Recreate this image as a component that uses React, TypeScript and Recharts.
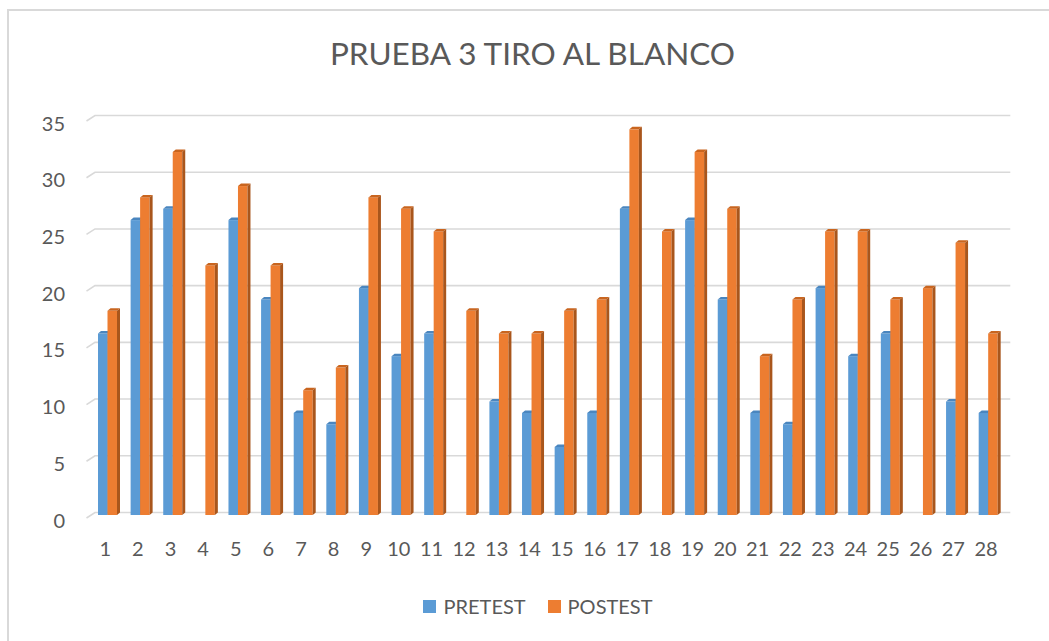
import { Bar, BarChart, CartesianGrid, Legend, XAxis, YAxis } from "recharts"

const categories = [
  "1", "2", "3", "4", "5", "6", "7", "8", "9", "10", "11", "12", "13", "14",
  "15", "16", "17", "18", "19", "20", "21", "22", "23", "24", "25", "26", "27", "28",
]
const pretest = [16, 26, 27, 0, 26, 19, 9, 8, 20, 14, 16, 0, 10, 9, 6, 9, 27, 0, 26, 19, 9, 8, 20, 14, 16, 0, 10, 9]
const postest = [18, 28, 32, 22, 29, 22, 11, 13, 28, 27, 25, 18, 16, 16, 18, 19, 34, 25, 32, 27, 14, 19, 25, 25, 19, 20, 24, 16]
const seriesNames = ["PRETEST", "POSTEST"]
const yTicks = [0, 5, 10, 15, 20, 25, 30, 35]

const data = categories.map((c, i) => ({ name: c, PRETEST: pretest[i], POSTEST: postest[i] }))

const FONT = "Lato, 'Open Sans', sans-serif"
const TEXT = "#595959"

// depth of the fake 3d effect
const DX = 3
const DY = 2.5

function makeBox(front: string, top: string, side: string) {
  return (props: any) => {
    const { x, y, width, height } = props
    if (!height || height <= 0) return <g />
    return (
      <g>
        <rect x={x} y={y} width={width} height={height} fill={front} />
        <path
          d={`M${x},${y} L${x + DX},${y - DY} L${x + width + DX},${y - DY} L${x + width},${y} Z`}
          fill={top}
        />
        <path
          d={`M${x + width},${y} L${x + width + DX},${y - DY} L${x + width + DX},${y + height - DY} L${x + width},${y + height} Z`}
          fill={side}
        />
      </g>
    )
  }
}

const blueBox = makeBox("#5B9BD5", "#4A86BF", "#3E72A3")
const orangeBox = makeBox("#ED7D31", "#C9651F", "#A9561C")

function GridLine(props: any) {
  const { x1, x2, y1 } = props
  return (
    <path
      d={`M${x1 - 4.5},${y1 + 3} L${x1 + 4},${y1 - 2.5} L${x2 + 6},${y1 - 2.5}`}
      stroke="#d9d9d9"
      strokeWidth={1.6}
      fill="none"
    />
  )
}

function YTick(props: any) {
  const { y, payload } = props
  return (
    <text x={65} y={y + 4.5} textAnchor="end" dominantBaseline="central" fill={TEXT} fontSize={20} fontFamily={FONT}>
      {payload.value}
    </text>
  )
}

function XTick(props: any) {
  const { x, payload } = props
  return (
    <text x={x - 2} y={548} textAnchor="middle" dominantBaseline="central" fill={TEXT} fontSize={20} fontFamily={FONT}>
      {payload.value}
    </text>
  )
}

function LegendContent(props: any) {
  const items = [...(props.payload || [])].sort(
    (a: any, b: any) => seriesNames.indexOf(a.value) - seriesNames.indexOf(b.value)
  )
  return (
    <div style={{ display: "flex", justifyContent: "center", alignItems: "center", marginLeft: 27 }}>
      {items.map((p: any, i: number) => (
        <div key={p.value} style={{ display: "flex", alignItems: "center", marginLeft: i > 0 ? 22 : 0 }}>
          <span style={{ width: 13, height: 13, background: p.color, display: "inline-block", marginRight: 7 }} />
          <span style={{ fontFamily: FONT, fontSize: 20, color: TEXT, lineHeight: "20px" }}>{p.value}</span>
        </div>
      ))}
    </div>
  )
}

export default function App() {
  return (
    <div style={{ position: "fixed", left: 0, top: 0, width: 1049, height: 641, overflow: "hidden", background: "#fff" }}>
      <div
        style={{
          position: "absolute",
          left: 7,
          top: 9,
          width: 1100,
          height: 700,
          border: "2px solid #d9d9d9",
          boxSizing: "border-box",
        }}
      />
      <div
        style={{
          position: "absolute",
          left: 0,
          width: 1065,
          top: 33,
          textAlign: "center",
          fontFamily: FONT,
          fontSize: 31.5,
          color: TEXT,
          lineHeight: "40px",
        }}
      >
        PRUEBA 3 TIRO AL BLANCO
      </div>
      <div style={{ position: "absolute", left: 0, top: 0 }}>
        <BarChart
          width={1049}
          height={641}
          data={data}
          margin={{ top: 118, right: 44.7, left: 0, bottom: 96 }}
          barGap={0}
          barSize={9.5}
        >
          <CartesianGrid horizontal={(p: any) => <GridLine key={p.key} {...p} />} vertical={false} />
          <XAxis
            dataKey="name"
            height={30}
            axisLine={false}
            tickLine={false}
            tickSize={0}
            tickMargin={0}
            interval={0}
            tick={<XTick />}
          />
          <YAxis
            width={91}
            domain={[0, 35]}
            ticks={yTicks}
            interval={0}
            axisLine={false}
            tickLine={false}
            tick={<YTick />}
          />
          <Legend
            verticalAlign="middle"
            align="center"
            wrapperStyle={{ top: 596, left: 0, width: 1049 }}
            content={<LegendContent />}
          />
          <Bar dataKey="PRETEST" fill="#5B9BD5" shape={blueBox} isAnimationActive={false} />
          <Bar dataKey="POSTEST" fill="#ED7D31" shape={orangeBox} isAnimationActive={false} />
        </BarChart>
      </div>
    </div>
  )
}
